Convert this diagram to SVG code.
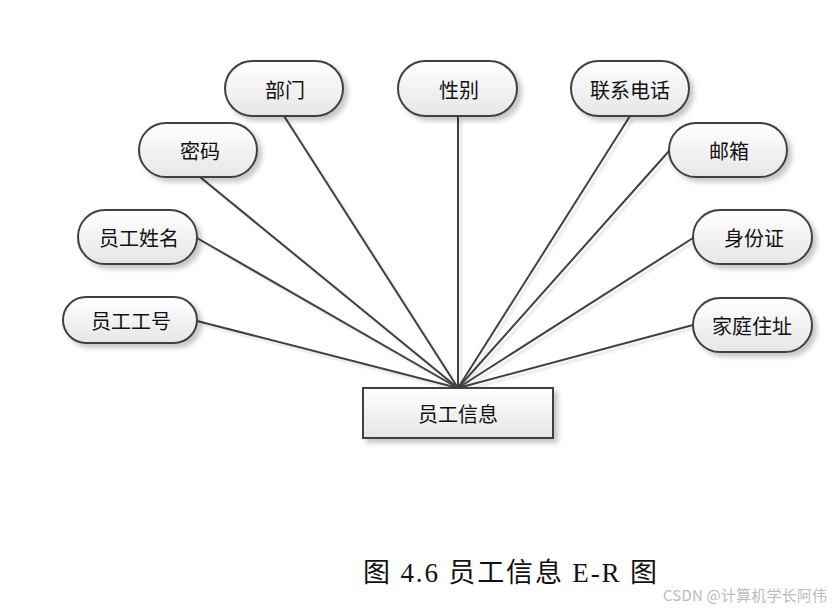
<svg xmlns="http://www.w3.org/2000/svg" width="838" height="612" viewBox="0 0 838 612">
<style>
.n{stroke:#404040;stroke-width:2;fill:url(#g);filter:url(#sh)}
.t{font-family:"Noto Sans CJK SC","Noto Sans",sans-serif;font-size:20px;fill:#111;text-anchor:middle;dominant-baseline:central}
.c line{stroke:#404040;stroke-width:2}
.cap{font-family:"Liberation Serif","Noto Sans CJK SC",serif;font-size:27px;fill:#111}
.wm{font-family:"Noto Sans CJK SC","Noto Sans",sans-serif;font-size:15px;fill:#bbb}
</style>
<defs>
<linearGradient id="g" x1="0" y1="0" x2="0" y2="1">
<stop offset="0" stop-color="#ffffff"/>
<stop offset="1" stop-color="#e6e6e6"/>
</linearGradient>
<filter id="sh" x="-20%" y="-20%" width="150%" height="160%">
<feDropShadow dx="4" dy="4" stdDeviation="2.5" flood-color="#000" flood-opacity="0.22"/>
</filter>
<filter id="ls" filterUnits="userSpaceOnUse" x="0" y="0" width="838" height="612">
<feDropShadow dx="3" dy="3" stdDeviation="1" flood-color="#000" flood-opacity="0.12"/>
</filter>
</defs>
<g class="c" id="connectors" filter="url(#ls)">
<line x1="284" y1="116" x2="458" y2="388"/>
<line x1="200" y1="177" x2="458" y2="388"/>
<line x1="197" y1="238" x2="458" y2="388"/>
<line x1="197" y1="321" x2="458" y2="388"/>
<line x1="458" y1="116" x2="458" y2="388"/>
<line x1="630" y1="116" x2="458" y2="388"/>
<line x1="669" y1="151" x2="458" y2="388"/>
<line x1="693" y1="238" x2="458" y2="388"/>
<line x1="693" y1="325" x2="458" y2="388"/>
</g>
<g id="bumen"><rect class="n" x="225" y="61" width="118" height="55" rx="27.5"/><text class="t" x="285" y="89">部门</text></g>
<g id="mima"><rect class="n" x="139" y="123" width="118" height="54" rx="27"/><text class="t" x="200" y="150">密码</text></g>
<g id="xingming"><rect class="n" x="78" y="210" width="119" height="54" rx="27"/><text class="t" x="139" y="237">员工姓名</text></g>
<g id="gonghao"><rect class="n" x="63" y="297" width="134" height="46" rx="23"/><text class="t" x="131" y="320">员工工号</text></g>
<g id="xingbie"><rect class="n" x="398" y="61" width="119" height="55" rx="27.5"/><text class="t" x="459" y="89">性别</text></g>
<g id="dianhua"><rect class="n" x="571" y="61" width="118" height="55" rx="27.5"/><text class="t" x="630" y="89">联系电话</text></g>
<g id="youxiang"><rect class="n" x="669" y="123" width="118" height="54" rx="27"/><text class="t" x="729" y="150">邮箱</text></g>
<g id="shenfenzheng"><rect class="n" x="693" y="210" width="119" height="54" rx="27"/><text class="t" x="754" y="237">身份证</text></g>
<g id="dizhi"><rect class="n" x="693" y="298" width="119" height="54" rx="27"/><text class="t" x="752" y="325">家庭住址</text></g>
<g id="yuangong"><rect class="n" x="363" y="388" width="190" height="50" rx="0"/><text class="t" x="458" y="413">员工信息</text></g>
<text class="cap" x="363" y="582" textLength="294" lengthAdjust="spacing">图 4.6 员工信息 E-R 图</text>
<text class="wm" x="663" y="601" textLength="164" lengthAdjust="spacing">CSDN @计算机学长阿伟</text>
</svg>
